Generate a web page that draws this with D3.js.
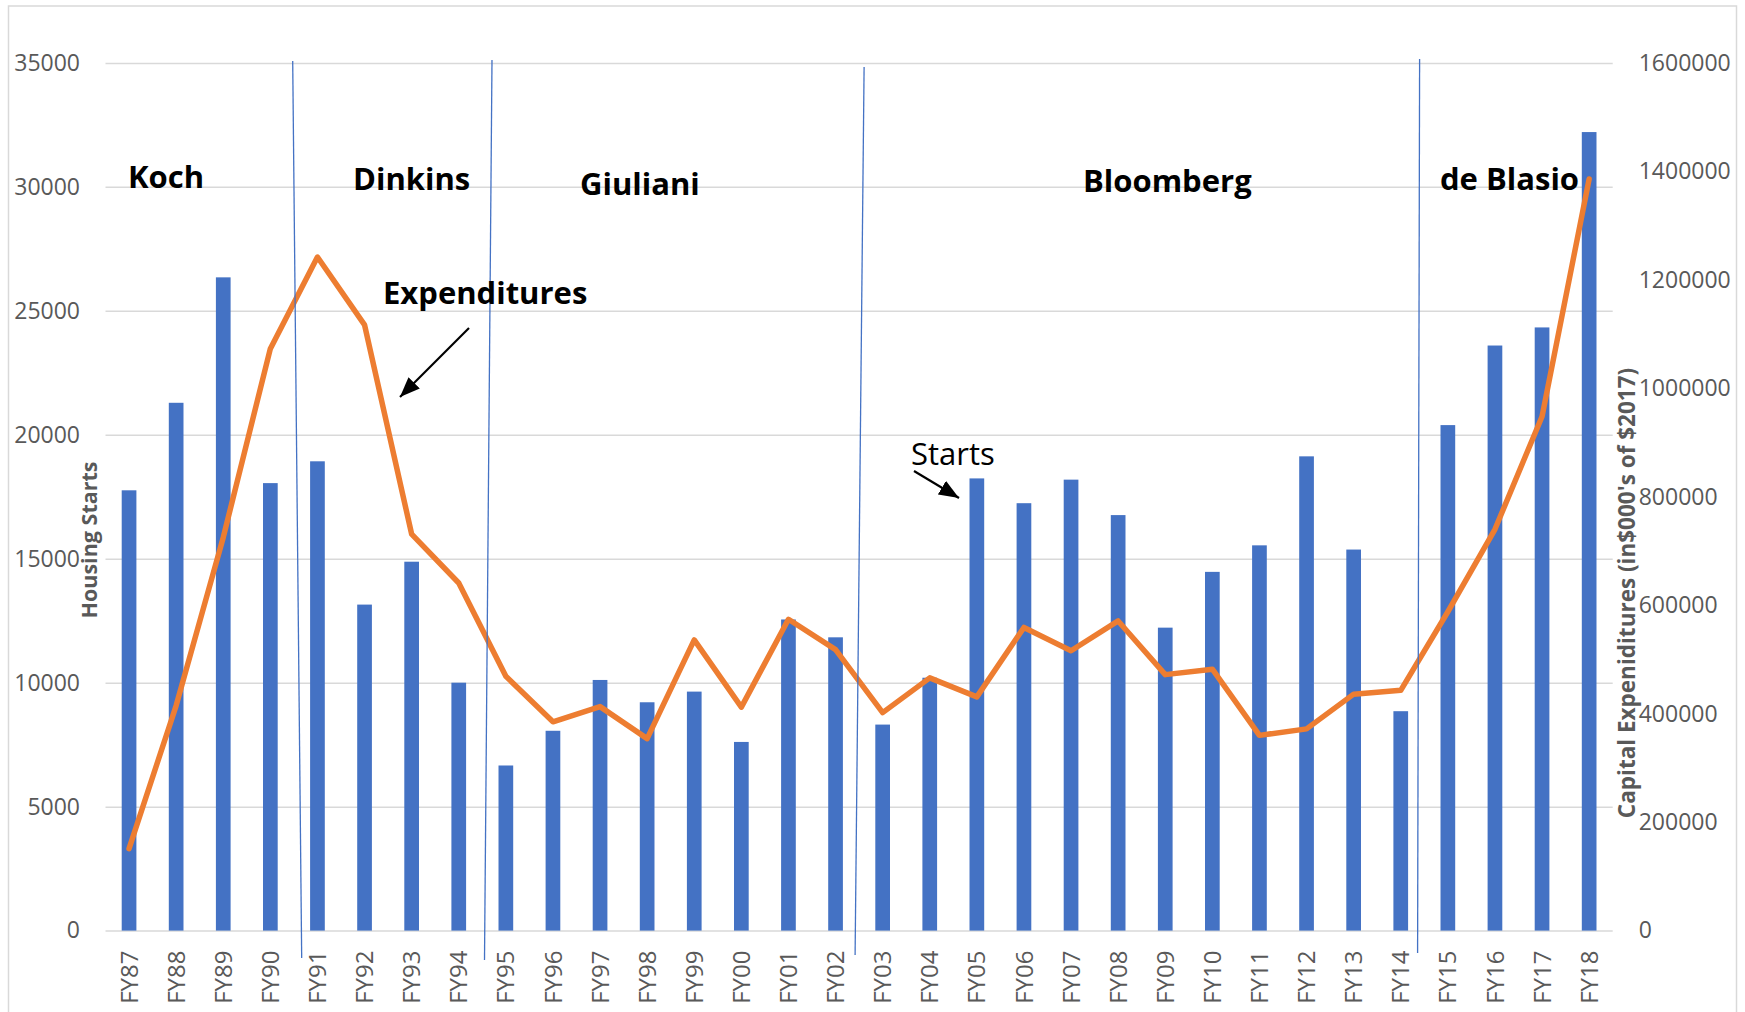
<!DOCTYPE html>
<html>
<head>
<meta charset="utf-8">
<script src="https://cdn.jsdelivr.net/npm/d3@7"></script>
<style>
  body { margin: 0; background: #fff; }
  text { font-family: "Open Sans", "Segoe UI", sans-serif; }
</style>
</head>
<body>
<div id="container"></div>
<script>
// fiscal years on the x axis
const years = ["FY87", "FY88", "FY89", "FY90", "FY91", "FY92", "FY93", "FY94", "FY95", "FY96", "FY97",
    "FY98", "FY99", "FY00", "FY01", "FY02", "FY03", "FY04", "FY05", "FY06", "FY07", "FY08", "FY09",
    "FY10", "FY11", "FY12", "FY13", "FY14", "FY15", "FY16", "FY17", "FY18"]

// housing starts (bars, left axis)
const housingStarts = [17760, 21290, 26350, 18050, 18930, 13150, 14880, 10000, 6660, 8060, 10110,
    9210, 9640, 7610, 12550, 11830, 8310, 10200, 18240, 17240, 18190, 16760, 12220,
    14470, 15540, 19130, 15370, 8850, 20390, 23600, 24330, 32210]

// capital expenditures, in $000's of $2017 (line, right axis)
const capitalExpenditures = [151000, 415000, 725000, 1073000, 1242000, 1117000, 731000, 641000, 469000, 385000, 413000,
    354000, 536000, 412000, 574000, 518000, 402000, 466000, 431000, 559000, 516000, 571000, 472000,
    482000, 360000, 372000, 436000, 443000, 588000, 740000, 948000, 1386000]

const startsTicks = d3.range(0, 35001, 5000)
const expenditureTicks = d3.range(0, 1600001, 200000)

// mayoral terms: name and the last fiscal year before the next term starts
const mayors = ["Koch", "Dinkins", "Giuliani", "Bloomberg", "de Blasio"]
const termBreaks = ["FY90", "FY94", "FY02", "FY14"]

const width = 1745
const height = 1012

const plot = { left: 105.5, right: 1612.7, top: 62.9, bottom: 930.6 }

const gridColor = "#d9d9d9"
const labelColor = "#595959"
const barColor = "#4472C4"
const lineColor = "#ED7D31"

const svg = d3.select("#container")
    .append("svg")
    .attr("width", width)
    .attr("height", height)

// chart frame
svg.append("rect")
    .attr("x", 8.5).attr("y", 6)
    .attr("width", 1728).attr("height", 1030)
    .attr("fill", "none")
    .attr("stroke", gridColor)
    .attr("stroke-width", 1.5)

const x = d3.scaleBand().domain(years).range([plot.left, plot.right])
const yLeft = d3.scaleLinear().domain([0, 35000]).range([plot.bottom, plot.top])
const yRight = d3.scaleLinear().domain([0, 1600000]).range([plot.bottom, plot.top])

// left axis with gridlines
const leftAxis = svg.append("g")
    .attr("transform", `translate(${plot.left},0)`)
    .call(d3.axisLeft(yLeft)
        .tickValues(startsTicks)
        .tickFormat(d3.format("d"))
        .tickSize(-(plot.right - plot.left))
        .tickPadding(25.5))
leftAxis.select(".domain").remove()
leftAxis.selectAll("line").attr("stroke", gridColor).attr("stroke-width", 1.5)
leftAxis.selectAll("text")
    .attr("fill", labelColor)
    .attr("font-size", 23)

// right axis
const rightAxis = svg.append("g")
    .attr("transform", `translate(${plot.right},0)`)
    .call(d3.axisRight(yRight)
        .tickValues(expenditureTicks)
        .tickFormat(d3.format("d"))
        .tickSize(0)
        .tickPadding(26))
rightAxis.select(".domain").remove()
rightAxis.selectAll("text")
    .attr("fill", labelColor)
    .attr("font-size", 23)

// bottom axis, labels turned upright
const bottomAxis = svg.append("g")
    .attr("transform", `translate(0,${plot.bottom})`)
    .call(d3.axisBottom(x).tickSize(0))
bottomAxis.select(".domain").remove()
bottomAxis.selectAll("text")
    .attr("transform", "rotate(-90)")
    .attr("text-anchor", "end")
    .attr("x", -20)
    .attr("y", 0)
    .attr("dy", "0.36em")
    .attr("fill", labelColor)
    .attr("font-size", 24)

// axis titles
svg.append("text")
    .attr("transform", `translate(89,540) rotate(-90)`)
    .attr("text-anchor", "middle")
    .attr("dy", "0.35em")
    .attr("font-size", 21.5)
    .attr("font-weight", "bold")
    .attr("fill", labelColor)
    .text("Housing Starts")

svg.append("text")
    .attr("transform", `translate(1627,593) rotate(-90)`)
    .attr("text-anchor", "middle")
    .attr("dy", "0.35em")
    .attr("font-size", 22.5)
    .attr("font-weight", "bold")
    .attr("fill", labelColor)
    .text("Capital Expeniditures (in$000's of $2017)")

// bars
const barWidth = x.bandwidth() * 0.312
svg.append("g")
    .selectAll("rect")
    .data(years)
    .join("rect")
    .attr("x", (d) => x(d) + x.bandwidth() / 2 - barWidth / 2)
    .attr("y", (d, i) => yLeft(housingStarts[i]))
    .attr("width", barWidth)
    .attr("height", (d, i) => plot.bottom - yLeft(housingStarts[i]))
    .attr("fill", barColor)

// expenditure line
const line = d3.line()
    .x((d) => x(d) + x.bandwidth() / 2)
    .y((d, i) => yRight(capitalExpenditures[i]))

svg.append("path")
    .attr("d", line(years))
    .attr("fill", "none")
    .attr("stroke", lineColor)
    .attr("stroke-width", 5.5)
    .attr("stroke-linejoin", "round")
    .attr("stroke-linecap", "round")

// hand drawn dividers between mayoral terms (slightly slanted)
const dividerSkew = [
    { top: -1.2, bottom: 7.8, y1: 61, y2: 958 },
    { top: 9.7, bottom: 2.2, y1: 60, y2: 960 },
    { top: 5, bottom: -4, y1: 67, y2: 955 },
    { top: -4.7, bottom: -6.7, y1: 59, y2: 953 },
]
termBreaks.forEach((yr, i) => {
    const bx = x(yr) + x.bandwidth()
    const s = dividerSkew[i]
    svg.append("line")
        .attr("x1", bx + s.top).attr("y1", s.y1)
        .attr("x2", bx + s.bottom).attr("y2", s.y2)
        .attr("stroke", barColor)
        .attr("stroke-width", 1.3)
})

// mayor names
const mayorPos = [
    { x: 128, y: 188 },
    { x: 353, y: 190 },
    { x: 580, y: 195 },
    { x: 1083, y: 192 },
    { x: 1440, y: 190 },
]
mayors.forEach((name, i) => {
    svg.append("text")
        .attr("x", mayorPos[i].x)
        .attr("y", mayorPos[i].y)
        .attr("font-size", 31)
        .attr("font-weight", "bold")
        .attr("fill", "#000")
        .text(name)
})

// annotations with arrows
svg.append("defs").append("marker")
    .attr("id", "arrow")
    .attr("viewBox", "0 0 20 16")
    .attr("refX", 20).attr("refY", 8)
    .attr("markerWidth", 20).attr("markerHeight", 16)
    .attr("markerUnits", "userSpaceOnUse")
    .attr("orient", "auto")
    .append("path")
    .attr("d", "M0,0 L20,8 L0,16 Z")
    .attr("fill", "#000")

svg.append("text")
    .attr("x", 383).attr("y", 304)
    .attr("font-size", 31)
    .attr("font-weight", "bold")
    .text("Expenditures")

svg.append("line")
    .attr("x1", 469).attr("y1", 328)
    .attr("x2", 400).attr("y2", 397)
    .attr("stroke", "#000")
    .attr("stroke-width", 2.2)
    .attr("marker-end", "url(#arrow)")

svg.append("text")
    .attr("x", 911).attr("y", 465)
    .attr("font-size", 31)
    .text("Starts")

svg.append("line")
    .attr("x1", 914).attr("y1", 471)
    .attr("x2", 959).attr("y2", 498)
    .attr("stroke", "#000")
    .attr("stroke-width", 2.2)
    .attr("marker-end", "url(#arrow)")
</script>
</body>
</html>
